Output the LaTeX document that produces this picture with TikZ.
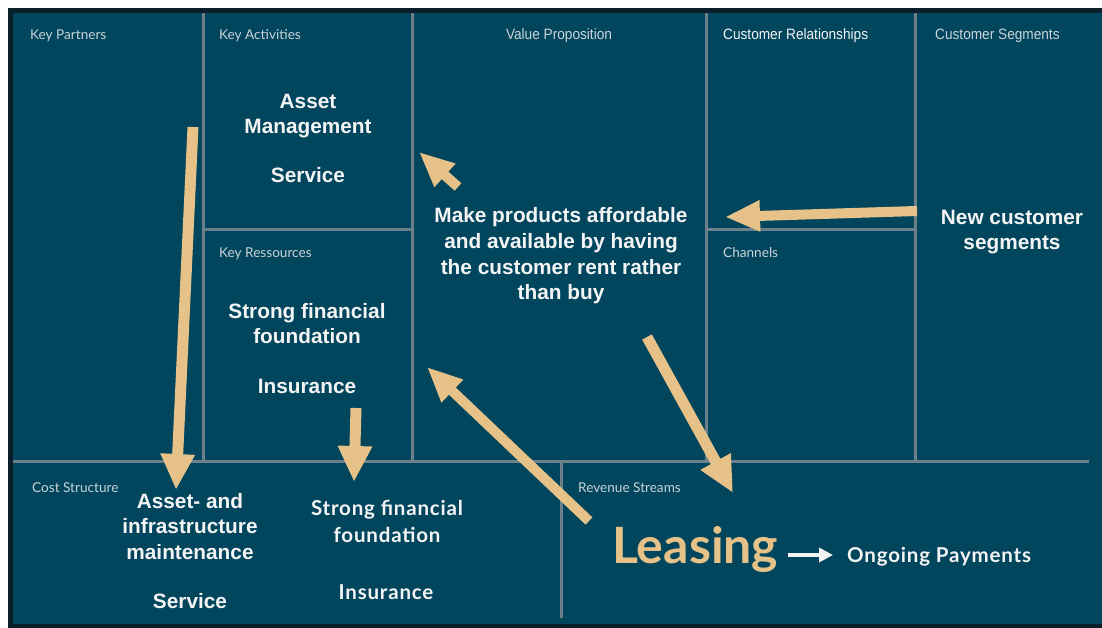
\documentclass[tikz,border=0pt]{standalone}
\usepackage{fontspec}
\setmainfont{Liberation Sans}
\newfontfamily\av{Lato}
\newfontfamily\avw[LetterSpace=4]{Lato}
\newfontfamily\hn[FakeStretch=0.91]{Liberation Sans}
\usetikzlibrary{arrows.meta}
\definecolor{bmcteal}{HTML}{02465E}
\definecolor{bmcdark}{HTML}{0A1F2A}
\definecolor{gridgray}{HTML}{6C8089}
\definecolor{tan}{HTML}{E6C288}
\definecolor{hdrgray}{HTML}{C8D3D8}
\definecolor{txtwhite}{HTML}{F4F4F4}
\tikzset{
  gridline/.style={draw=gridgray, line width=3pt},
  hdr/.style={anchor=base west, inner sep=0pt, text=hdrgray, font=\av\fontsize{13.6}{15}\selectfont},
  hdrc/.style={anchor=base, inner sep=0pt, text=hdrgray, font=\hn\fontsize{15}{17}\selectfont},
  big/.style={anchor=base, inner sep=0pt, text=txtwhite, font=\bfseries\fontsize{20.8}{24}\selectfont},
  avbig/.style={anchor=base, inner sep=0pt, text=txtwhite, font=\avw\bfseries\fontsize{20.5}{24}\selectfont},
  flow/.style={draw=tan, line width=11pt, -{Triangle[length=36pt,width=32pt]}},
  flowsmall/.style={draw=tan, line width=10pt, -{Triangle[length=35pt,width=29pt]}}
}
\begin{document}
\begin{tikzpicture}[x=1pt,y=-1pt]
\useasboundingbox (0,0) rectangle (1102,628);
\fill[white] (0,0) rectangle (1102,628);
\fill[bmcdark] (8,8) rectangle (1102,628);
\fill[bmcteal] (13,13) rectangle (1102,624);
% grid
\draw[gridline] (203,13) -- (203,461);
\draw[gridline] (412,13) -- (412,461);
\draw[gridline] (706,13) -- (706,461);
\draw[gridline] (915,13) -- (915,461);
\draw[gridline] (203,230) -- (412,230);
\draw[gridline] (706,230) -- (915,230);
\draw[gridline] (13,461) -- (1089,461);
\draw[gridline] (561,461) -- (561,618);
% headers
\node[hdr] (hkp) at (30,40) {Key Partners};
\node[hdr] (hka) at (219,40) {Key Activities};
\node[hdrc] (hvp) at (559,40) {Value Proposition};
\node[hdrc, anchor=base west, text=txtwhite] (hcr) at (723,40) {Customer Relationships};
\node[hdrc, anchor=base west] (hcs) at (935,40) {Customer Segments};
\node[hdr] (hkr) at (219,258) {Key Ressources};
\node[hdr] (hch) at (723,258) {Channels};
\node[hdr] (hcost) at (32,492) {Cost Structure};
\node[hdr] (hrev) at (578,492) {Revenue Streams};
% key activities
\node[big] (ka1) at (308,109) {Asset};
\node[big] (ka2) at (308,134) {Management};
\node[big] (ka3) at (308,183) {Service};
% key resources
\node[big] (kr1) at (307,318) {Strong financial};
\node[big] (kr2) at (307,343) {foundation};
\node[big] (kr3) at (307,393) {Insurance};
% value proposition
\node[big] (vp1) at (561,223) {Make products affordable};
\node[big] (vp2) at (561,248.5) {and available by having};
\node[big] (vp3) at (561,274) {the customer rent rather};
\node[big] (vp4) at (561,299.5) {than buy};
% customer segments
\node[big] (cs1) at (1012,225) {New customer};
\node[big] (cs2) at (1012,250) {segments};
% cost structure
\node[big] (cost1) at (190,508) {Asset- and};
\node[big] (cost2) at (190,533.5) {infrastructure};
\node[big] (cost3) at (190,559) {maintenance};
\node[big] (cost4) at (190,608) {Service};
\node[avbig] (cost5) at (387,515) {Strong financial};
\node[avbig] (cost6) at (387,542) {foundation};
\node[avbig] (cost7) at (386,599) {Insurance};
% revenue
\node[anchor=base west, inner sep=0pt, text=tan, font=\av\bfseries\fontsize{50}{54}\selectfont] (lease) at (612,563) {Leasing};
\node[anchor=base west, inner sep=0pt, text=txtwhite, font=\avw\bfseries\fontsize{20.5}{22}\selectfont] (pay) at (847,562) {Ongoing Payments};
\coordinate (wa1) at (788,555);
\coordinate (wa2) at (833,555);
\draw[draw=txtwhite, line width=3.5pt, -{Triangle[length=14pt,width=14pt]}] (wa1) -- (wa2);
% tan arrows
\coordinate (a1s) at (193,127); \coordinate (a1e) at (176,490);
\coordinate (a2s) at (356,408); \coordinate (a2e) at (354,482);
\coordinate (a3s) at (458,187); \coordinate (a3e) at (419,152);
\coordinate (a4s) at (917,211); \coordinate (a4e) at (725,217);
\coordinate (a5s) at (589,521); \coordinate (a5e) at (427,367);
\coordinate (a6s) at (647,337); \coordinate (a6e) at (733,493);
\draw[flow] (a1s) -- (a1e);
\draw[flow] (a2s) -- (a2e);
\draw[flowsmall] (a3s) -- (a3e);
\draw[flowsmall] (a4s) -- (a4e);
\draw[flowsmall] (a5s) -- (a5e);
\draw[flow] (a6s) -- (a6e);
\end{tikzpicture}
\end{document}
